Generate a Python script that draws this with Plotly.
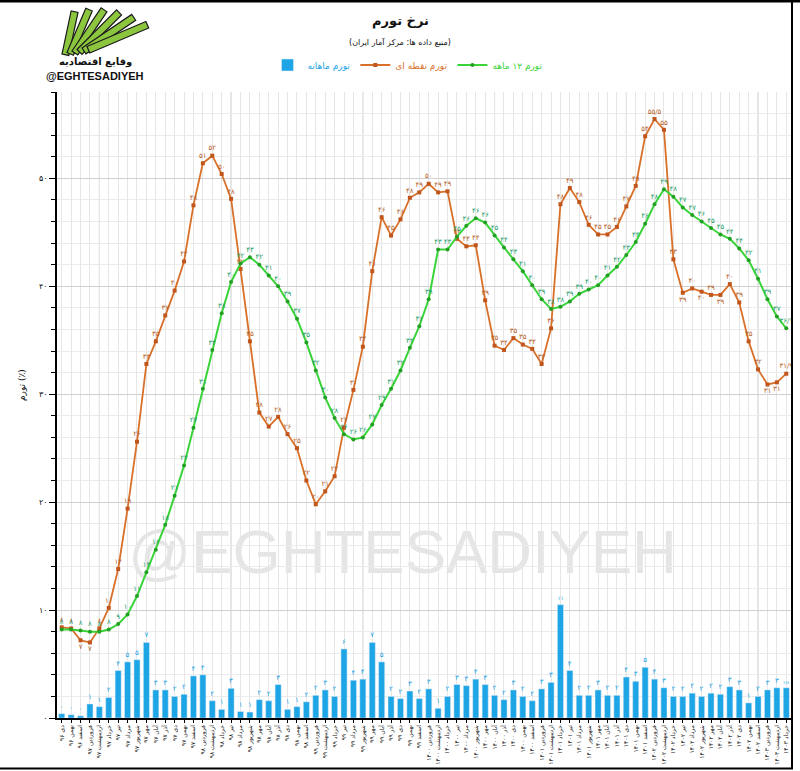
import math
import plotly.graph_objects as go

# ---------------- data ----------------
month_names = ['فروردین', 'اردیبهشت', 'خرداد', 'تیر', 'مرداد', 'شهریور',
               'مهر', 'آبان', 'آذر', 'دی', 'بهمن', 'اسفند']
year_labels = ['۹۶', '۹۷', '۹۸', '۹۹', '۱۴۰۰', '۱۴۰۱', '۱۴۰۲', '۱۴۰۳']

# monthly inflation (bars)
monthly = [0.4, 0.3, 0.2, 1.3, 1.05, 1.9, 4.4, 5.2, 5.4, 7.0,
           2.6, 2.6, 2.0, 2.2, 3.9, 4.0, 1.6, 0.8, 2.75, 0.6,
           0.55, 1.7, 1.6, 3.1, 0.8, 1.05, 1.5, 2.1, 2.6, 2.0,
           6.4, 3.5, 3.6, 7.0, 5.2, 2.0, 1.8, 2.5, 1.8, 2.7,
           0.9, 2.0, 3.1, 3.0, 3.6, 3.1, 2.1, 1.7, 2.6, 2.0,
           1.6, 2.7, 3.3, 10.5, 4.4, 2.1, 2.1, 2.6, 2.1, 2.1,
           3.8, 3.4, 4.7, 3.6, 2.8, 2.0, 2.0, 2.3, 2.0, 2.3,
           2.2, 2.9, 2.6, 1.4, 2.0, 2.6, 2.8, 2.8]

# point-to-point inflation (orange)
point = [8.4, 8.3, 7.2, 7.0, 8.3, 10.2, 13.8, 19.4, 25.6, 32.8,
         34.9, 37.3, 39.6, 42.3, 47.5, 51.4, 52.1, 50.4, 48.1, 41.6,
         34.9, 28.3, 27.0, 27.9, 26.3, 25.0, 22.0, 19.8, 21.0, 22.4,
         26.9, 30.4, 34.4, 41.4, 46.4, 44.7, 46.2, 48.2, 48.7, 49.5,
         48.7, 48.8, 44.4, 43.7, 43.8, 38.7, 34.5, 34.1, 35.2, 34.6,
         34.2, 32.8, 36.1, 47.6, 49.1, 47.8, 45.7, 44.8, 44.8, 45.5,
         47.4, 49.3, 53.9, 55.5, 54.5, 42.5, 39.4, 39.8, 39.5, 39.2,
         39.2, 40.2, 38.5, 34.9, 32.3, 30.9, 31.1, 31.9]

# 12-month inflation (green)
annual = [8.2, 8.2, 8.1, 8.0, 8.0, 8.2, 8.7, 9.6, 11.3, 13.5,
          15.6, 17.9, 20.6, 23.4, 26.9, 30.5, 34.1, 37.5, 40.4, 42.1,
          42.7, 42.0, 41.0, 40.0, 38.6, 37.0, 34.8, 32.2, 29.7, 27.8,
          26.3, 25.8, 26.0, 27.2, 29.0, 30.5, 32.2, 34.3, 36.3, 38.8,
          43.4, 43.4, 44.6, 45.6, 46.3, 45.9, 44.7, 43.6, 42.5, 41.4,
          40.1, 38.8, 37.9, 38.1, 38.6, 39.3, 39.7, 40.1, 41.0, 41.8,
          42.9, 44.1, 45.8, 47.6, 49.0, 48.3, 47.3, 46.6, 46.0, 45.4,
          44.8, 44.4, 43.5, 42.4, 40.7, 38.8, 37.2, 36.1]

y_ticks = [0, 10, 20, 30, 40, 50]

# categories: دی ۹۶ ... خرداد ۱۴۰۳
categories = []
for yi, yl in enumerate(year_labels):
    for mi, mn in enumerate(month_names):
        if yi == 0 and mi < 9:
            continue
        if yi == len(year_labels) - 1 and mi > 2:
            continue
        categories.append(f'{mn} {yl}')

FA = str.maketrans('0123456789.', '۰۱۲۳۴۵۶۷۸۹/')


def fa(v, dec=False):
    s = f'{v:.1f}' if dec else str(int(v + 0.5))
    return s.translate(FA)


n = len(categories)
bar_text = [fa(v, dec=(i == n - 1)) for i, v in enumerate(monthly)]
point_text = [fa(v, dec=(i in (63, n - 1))) for i, v in enumerate(point)]
annual_text = [fa(v, dec=(i == n - 1)) for i, v in enumerate(annual)]
point_pos = ['bottom center' if i in (2, 3, 66, 68, 70, 75, 76) else 'top center'
             for i in range(n)]

BLUE = '#1ea5e6'
ORANGE = '#d8702a'
GREEN = '#3ad43a'
FONT = 'DejaVu Sans'

# plot-area geometry in pixels (for placing decorations)
L, R, T, B = 57, 9, 92, 53
W, H = 800, 771
PW, PH = W - L - R, H - T - B


def px(xp):
    return (xp - L) / PW


def py(yp):
    return (H - B - yp) / PH


fig = go.Figure()
fig.add_trace(go.Bar(
    x=categories, y=monthly, name=f'<span style="color:{BLUE}">تورم ماهانه</span>',
    marker_color=BLUE, text=bar_text, textposition='outside',
    textfont=dict(size=7, color=BLUE, family=FONT), cliponaxis=False))
fig.add_trace(go.Scatter(
    x=categories, y=point, name=f'<span style="color:{ORANGE}">تورم نقطه ای</span>',
    mode='lines+markers+text', line=dict(color=ORANGE, width=1.8),
    marker=dict(symbol='square', size=4, color='#c0561c'),
    text=point_text, textposition=point_pos,
    textfont=dict(size=7, color='#b5612a', family=FONT)))
fig.add_trace(go.Scatter(
    x=categories, y=annual, name=f'<span style="color:{GREEN}">تورم ۱۲ ماهه</span>',
    mode='lines+markers+text', line=dict(color=GREEN, width=2),
    marker=dict(symbol='circle', size=4, color='#23a023'),
    text=annual_text, textposition='top center',
    textfont=dict(size=7, color='#1e9e6a', family=FONT)))

shapes = []
# darker vertical grid lines
for c in categories[4::14]:
    shapes.append(dict(type='line', xref='x', yref='paper', x0=c, x1=c, y0=0, y1=1,
                       line=dict(color='#c4c4c4', width=1), layer='below'))
# watermark (below traces)
shapes.append(dict(type='rect', xref='paper', yref='paper', x0=px(125), x1=px(680),
                   y0=py(580), y1=py(510), line=dict(width=0), fillcolor='rgba(0,0,0,0)',
                   layer='below',
                   label=dict(text='@EGHTESADIYEH',
                              font=dict(size=62, color='rgba(190,190,190,0.4)',
                                        family='Liberation Sans'))))
# simple logo: fan of green bills
for k in range(6):
    th = math.radians(78 - 11 * k)
    ln = 44 + 4 * k
    x0, y0 = 62 + 5 * k, 54 - 1.5 * k
    dx, dy = math.cos(th) * ln, -math.sin(th) * ln
    nx, ny = math.sin(th) * 7, math.cos(th) * 7
    pts = [(x0, y0), (x0 + dx, y0 + dy), (x0 + dx + nx, y0 + dy + ny), (x0 + nx, y0 + ny)]
    path = 'M ' + ' L '.join(f'{px(a):.4f},{py(b):.4f}' for a, b in pts) + ' Z'
    shapes.append(dict(type='path', xref='paper', yref='paper', path=path,
                       fillcolor='#8cc63f', line=dict(color='#1a1a1a', width=1.2)))
# outer frame (top, right, bottom)
frame = dict(color='black', width=3)
shapes.append(dict(type='line', xref='paper', yref='paper', x0=px(0), x1=px(800),
                   y0=py(1), y1=py(1), line=frame))
shapes.append(dict(type='line', xref='paper', yref='paper', x0=px(792), x1=px(792),
                   y0=py(0), y1=py(769), line=dict(color='black', width=2)))
shapes.append(dict(type='line', xref='paper', yref='paper', x0=px(0), x1=px(793),
                   y0=py(768.5), y1=py(768.5), line=dict(color='black', width=2)))

annotations = [
    dict(text='<b>نرخ تورم</b>', x=px(400), y=py(21),
         font=dict(size=13, color='#111', family=FONT)),
    dict(text='(منبع داده ها: مرکز آمار ایران)', x=px(400), y=py(42),
         font=dict(size=8, color='#111', family=FONT)),
    dict(text='تورم (٪)', x=px(22), y=py(385), textangle=-90,
         font=dict(size=9, color='#111', family=FONT)),
    dict(text='<b>وقایع اقتصادیه</b>', x=px(95), y=py(62),
         font=dict(size=10, color='#111', family=FONT)),
    dict(text='<b>@EGHTESADIYEH</b>', x=px(95), y=py(76),
         font=dict(size=11, color='#111', family='Liberation Sans')),
]
for a in annotations:
    a.update(xref='paper', yref='paper', showarrow=False, xanchor='center', yanchor='middle')

fig.update_layout(
    width=W, height=H,
    margin=dict(l=L, r=R, t=T, b=B),
    paper_bgcolor='white', plot_bgcolor='white',
    bargap=0.35,
    showlegend=True,
    legend=dict(orientation='h', x=px(408), y=py(65), xanchor='center', yanchor='middle',
                font=dict(size=9, family=FONT), itemwidth=30,
                bgcolor='rgba(0,0,0,0)'),
    shapes=shapes, annotations=annotations,
    font=dict(family=FONT, color='#111'),
)
fig.update_xaxes(
    type='category', categoryorder='array', categoryarray=categories,
    range=[-0.5, n - 0.5],
    tickangle=-90, tickfont=dict(size=6, color='#222', family=FONT),
    showgrid=True, gridcolor='#e6e6e6', gridwidth=1,
    showline=True, linecolor='black', linewidth=1.5, mirror=False,
    ticks='outside', ticklen=3, tickcolor='black', automargin=False)
fig.update_yaxes(
    range=[0, 58], tickvals=y_ticks, ticktext=[fa(v) for v in y_ticks],
    tickfont=dict(size=8, color='#111', family=FONT),
    showgrid=True, gridcolor='#d0d0d0', gridwidth=1,
    minor=dict(dtick=2, tick0=0, ticks='outside', ticklen=4, tickcolor='black',
               showgrid=True, gridcolor='#ececec'),
    showline=True, linecolor='black', linewidth=1.5,
    ticks='outside', ticklen=6, tickcolor='black', zeroline=False, automargin=False)

fig.write_html('out.html', config={'displayModeBar': False},
               post_script="document.body.style.margin='0px';")
